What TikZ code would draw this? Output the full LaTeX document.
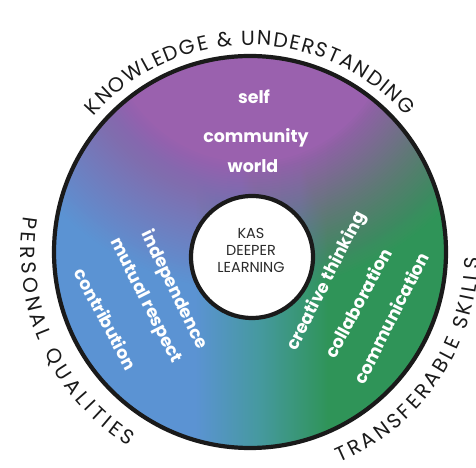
\documentclass[tikz,border=0pt]{standalone}
\usepackage{fontspec}
\setmainfont{Poppins}
\newfontfamily\handfont{Poppins}
\usetikzlibrary{decorations.text}
\definecolor{kpurple}{HTML}{9A61AE}
\definecolor{kblue}{HTML}{5B93D3}
\definecolor{kgreen}{HTML}{2F9458}
\definecolor{kteal}{HTML}{4699A0}
\definecolor{kink}{HTML}{1A1A1A}
\definecolor{kcore}{HTML}{2B2B2B}
\pgfdeclarehorizontalshading{kasbase}{100bp}{color(0bp)=(kblue); color(43bp)=(kblue); color(51bp)=(kteal); color(60bp)=(kgreen); color(100bp)=(kgreen)}
\tikzset{
  ringtxt/.style={text=white, font=\handfont\bfseries\fontsize{17.5}{19}\selectfont, inner sep=0pt},
  coretxt/.style={text=kcore, font=\handfont\fontsize{14.5}{17}\selectfont, inner sep=0pt, align=center},
  ringline/.style={draw=kink, line width=4.2bp, circle, inner sep=0pt},
  arctxt/.style={decorate, decoration={text along path, text align=fit to path, text={#1}}}
}
\begin{document}
\begin{tikzpicture}[x=1bp,y=1bp]
\useasboundingbox (0,0) rectangle (476,468);
\coordinate (C) at (250,216);
\coordinate (I) at (252,211);
\coordinate (P0) at (250,448);
% ring colouring
\begin{scope}
  \clip (C) circle (196);
  \shade[shading=kasbase] (C) circle (196);
  \foreach \k in {1,...,52}{
    \pgfmathsetmacro\rr{270-2.5*(\k-1)}
    \pgfmathsetmacro\op{1/(53-\k)}
    \fill[kpurple, fill opacity=\op] (P0) circle (\rr);
  }
\end{scope}
\node[ringline, minimum size=392bp] (ring) at (C) {};
\node[ringline, fill=white, minimum size=122bp] (core) at (I) {};
\node[coretxt] (kas) at (251,217.5) {KAS\\DEEPER\\LEARNING};
% ring texts
\node[ringtxt] (self) at (254,371) {self};
\node[ringtxt] (comm) at (256,330) {community};
\node[ringtxt] (world) at (253,302) {world};
\node[ringtxt, rotate=-64] (indep) at (174,178) {independence};
\node[ringtxt, rotate=-63] (mutual) at (145,167) {mutual respect};
\node[ringtxt, rotate=-62] (contrib) at (106,149) {contribution};
\node[ringtxt, rotate=63] (creative) at (327,186.5) {creative thinking};
\node[ringtxt, rotate=62] (collab) at (358,165) {collaboration};
\node[ringtxt, rotate=63] (commun) at (391,150) {communication};
% outer labels
\path[arctxt={|\color{kink}\handfont\fontsize{20.5}{20}\selectfont|KNOWLEDGE {\&} UNDERSTANDING}]
  ([shift={(139:207)}]C) arc (139:41:207);
\path[arctxt={|\color{kink}\handfont\fontsize{20.5}{20}\selectfont|PERSONAL QUALITIES}]
  ([shift={(171:229)}]C) arc (171:238:229);
\path[arctxt={|\color{kink}\handfont\fontsize{20.5}{20}\selectfont|TRANSFERABLE SKILLS}]
  ([shift={(-67:229)}]C) arc (-67:-1.5:229);
\end{tikzpicture}
\end{document}
